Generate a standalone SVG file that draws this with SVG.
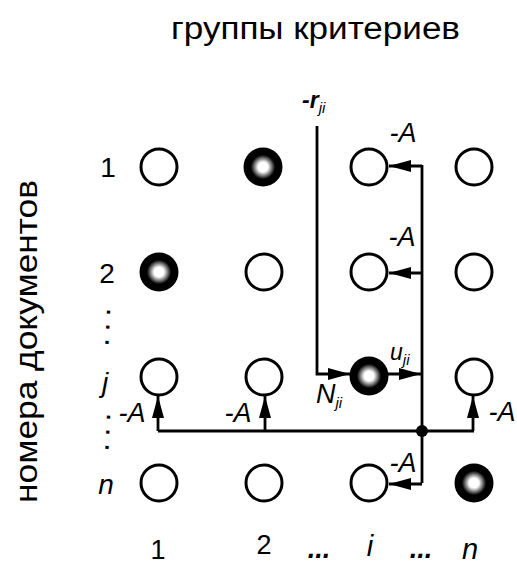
<svg xmlns="http://www.w3.org/2000/svg" width="517" height="562" viewBox="0 0 517 562">
<style>
.t{font-family:"Liberation Sans",Arial,sans-serif;fill:#000}
.it{font-style:italic}
.dots{font-family:"Liberation Sans",Arial,sans-serif;font-weight:bold;font-size:22px;letter-spacing:9px}
.c{fill:#fff;stroke:#000;stroke-width:3}
.f{fill:url(#g)}
.ln{fill:none;stroke:#000;stroke-width:2.8}
</style>
<defs>
<radialGradient id="g" cx="0.5" cy="0.5" r="0.5">
<stop offset="0" stop-color="#fff"/>
<stop offset="0.25" stop-color="#fff"/>
<stop offset="0.62" stop-color="#000"/>
<stop offset="1" stop-color="#000"/>
</radialGradient>
<marker id="ah" markerWidth="22" markerHeight="12" refX="22" refY="6" orient="auto" markerUnits="userSpaceOnUse">
<path d="M0,0 L22,6 L0,12 Z" fill="#000"/>
</marker>
</defs>
<rect width="517" height="562" fill="#fff"/>

<g id="title"><text class="t" x="171" y="39" font-size="31" textLength="289" lengthAdjust="spacingAndGlyphs">группы критериев</text></g>
<g id="ylabel"><text class="t" transform="translate(37,503) rotate(-90)" font-size="32" textLength="323" lengthAdjust="spacingAndGlyphs">номера документов</text></g>

<g id="rowlabels">
<text class="t" x="108" y="177" font-size="28" text-anchor="middle">1</text>
<text class="t" x="107" y="283" font-size="28" text-anchor="middle">2</text>
<text class="t it" x="105" y="392" font-size="28" text-anchor="middle">j</text>
<text class="t it" x="106" y="494" font-size="28" text-anchor="middle">n</text>
<text class="dots" transform="translate(107,309) rotate(93)">...</text>
<text class="dots" transform="translate(107,414) rotate(93)">...</text>
</g>

<g id="collabels">
<text class="t" x="158" y="559" font-size="27" text-anchor="middle">1</text>
<text class="t" x="264" y="554" font-size="27" text-anchor="middle">2</text>
<text class="t it" x="319" y="558" font-size="27" text-anchor="middle" font-weight="bold">...</text>
<text class="t it" x="370" y="556" font-size="29" text-anchor="middle">i</text>
<text class="t it" x="421" y="558" font-size="27" text-anchor="middle" font-weight="bold">...</text>
<text class="t it" x="470" y="559" font-size="29" text-anchor="middle">n</text>
</g>

<g id="nodes">
<g id="n11"><circle class="c" cx="159" cy="167" r="18"/></g>
<g id="n12"><circle class="f" cx="263" cy="167" r="19.5"/></g>
<g id="n1i"><circle class="c" cx="369" cy="167" r="18"/></g>
<g id="n1n"><circle class="c" cx="474" cy="167" r="18"/></g>
<g id="n21"><circle class="f" cx="159" cy="272" r="19.5"/></g>
<g id="n22"><circle class="c" cx="264" cy="272" r="18"/></g>
<g id="n2i"><circle class="c" cx="369" cy="272" r="18"/></g>
<g id="n2n"><circle class="c" cx="474" cy="272" r="18"/></g>
<g id="nj1"><circle class="c" cx="159" cy="377" r="18"/></g>
<g id="nj2"><circle class="c" cx="264" cy="377" r="18"/></g>
<g id="nji"><circle class="f" cx="369" cy="376" r="19.5"/></g>
<g id="njn"><circle class="c" cx="474" cy="377" r="18"/></g>
<g id="nn1"><circle class="c" cx="159" cy="483" r="18"/></g>
<g id="nn2"><circle class="c" cx="264" cy="483" r="18"/></g>
<g id="nni"><circle class="c" cx="369" cy="483" r="18"/></g>
<g id="nnn"><circle class="f" cx="474" cy="483" r="19.5"/></g>
</g>

<g id="connectors">
<path class="ln" d="M422,165 V483"/>
<path class="ln" d="M422,166 H389" marker-end="url(#ah)"/>
<path class="ln" d="M422,273 H389" marker-end="url(#ah)"/>
<path class="ln" d="M422,484 H389" marker-end="url(#ah)"/>
<path class="ln" d="M317,126 V374 H350" marker-end="url(#ah)"/>
<path class="ln" d="M388,374 H421" marker-end="url(#ah)"/>
<path class="ln" d="M158,431 H474"/>
<path class="ln" d="M158,431 V396" marker-end="url(#ah)"/>
<path class="ln" d="M265,431 V396" marker-end="url(#ah)"/>
<path class="ln" d="M473,431 V396" marker-end="url(#ah)"/>
<circle cx="422" cy="431" r="6" fill="#000"/>
</g>

<g id="labels">
<text class="t it" x="403" y="142" font-size="27" text-anchor="middle">-A</text>
<text class="t it" x="402" y="246" font-size="27" text-anchor="middle">-A</text>
<text class="t it" x="403" y="472" font-size="27" text-anchor="middle">-A</text>
<text class="t it" x="132" y="422" font-size="27" text-anchor="middle">-A</text>
<text class="t it" x="238" y="422" font-size="27" text-anchor="middle">-A</text>
<text class="t it" x="502" y="421" font-size="27" text-anchor="middle">-A</text>
<text class="t it" x="302" y="108" font-size="23" font-weight="bold">-r<tspan font-size="15" font-weight="normal" dy="5">ji</tspan></text>
<text class="t it" x="390" y="360" font-size="23">u<tspan font-size="15" dy="5">ji</tspan></text>
<text class="t it" x="316" y="403" font-size="27">N<tspan font-size="15" dy="5">ji</tspan></text>
</g>
</svg>
